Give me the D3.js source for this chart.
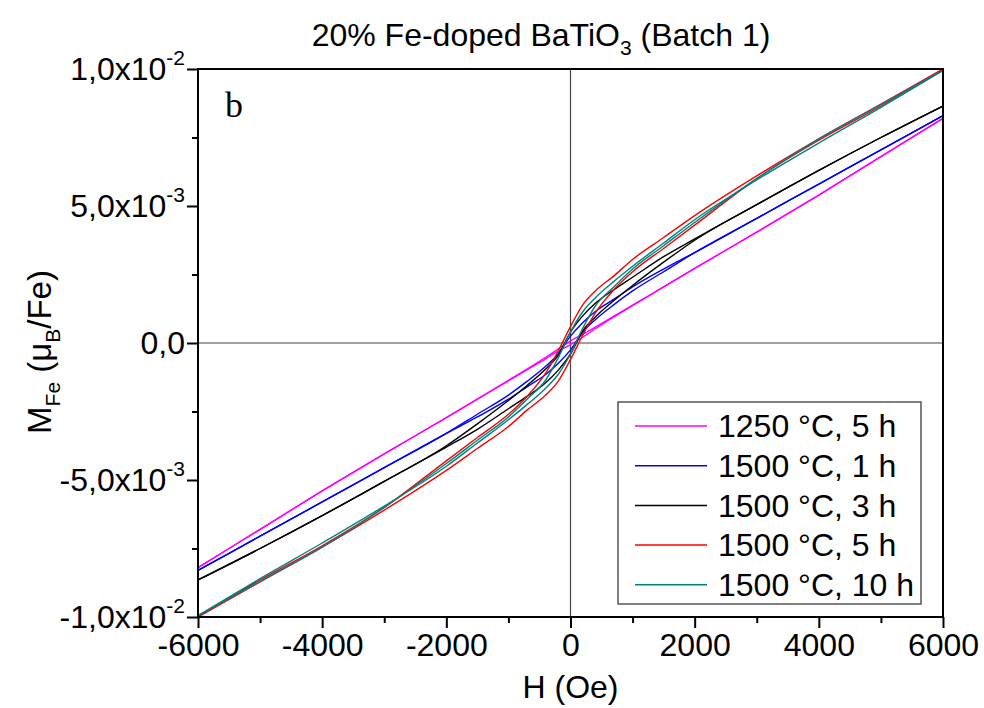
<!DOCTYPE html>
<html>
<head>
<meta charset="utf-8">
<script src="https://cdn.jsdelivr.net/npm/d3@7"></script>
<style>
  body { margin: 0; background: #fff; }
  text { font-family: "Liberation Sans", Arial, sans-serif; fill: #000; }
</style>
</head>
<body>
<svg id="chart" width="984" height="708"></svg>
<script>
// Applied field grid (Oe) shared by every branch
const fieldGrid = [-6000, -5000, -4000, -3000, -2000, -1500, -1000, -700, -400, -200, 0,
                   200, 400, 700, 1000, 1500, 2000, 3000, 4000, 5000, 6000];

// Magnetisation per Fe in units of 1e-3 muB; "Desc" = branch swept down from +H, "Asc" = swept up from -H
const m1250c5hDesc = [-8.2, -6.8, -5.4, -4.05, -2.72, -2.05, -1.36, -0.95, -0.52, -0.22, 0.08,
                      0.32, 0.58, 0.98, 1.38, 2.05, 2.72, 4.05, 5.4, 6.8, 8.2];
const m1250c5hAsc  = [-8.2, -6.8, -5.4, -4.05, -2.72, -2.05, -1.38, -0.98, -0.58, -0.3, -0.06,
                      0.22, 0.52, 0.95, 1.36, 2.05, 2.72, 4.05, 5.4, 6.8, 8.2];

const m1500c1hDesc = [-8.3, -7.05, -5.8, -4.55, -3.3, -2.6, -1.9, -1.4, -0.85, -0.4, 0.25,
                      0.75, 1.15, 1.6, 2.05, 2.7, 3.3, 4.55, 5.8, 7.05, 8.3];
const m1500c1hAsc  = [-8.3, -7.05, -5.8, -4.55, -3.3, -2.7, -2.05, -1.6, -1.15, -0.75, -0.25,
                      0.4, 0.85, 1.4, 1.9, 2.6, 3.3, 4.55, 5.8, 7.05, 8.3];

const m1500c3hDesc = [-8.65, -7.5, -6.3, -5.05, -3.75, -2.95, -2.1, -1.55, -0.95, -0.45, 0.4,
                      1.0, 1.45, 1.95, 2.4, 3.15, 3.8, 5.05, 6.3, 7.5, 8.65];
const m1500c3hAsc  = [-8.65, -7.5, -6.3, -5.05, -3.8, -3.15, -2.4, -1.95, -1.45, -1.0, -0.4,
                      0.45, 0.95, 1.55, 2.1, 2.95, 3.75, 5.05, 6.3, 7.5, 8.65];

const m1500c5hDesc = [-10.0, -8.65, -7.4, -6.0, -4.3, -3.45, -2.6, -1.95, -1.1, -0.3, 0.6,
                      1.4, 1.9, 2.45, 3.05, 3.85, 4.65, 6.1, 7.45, 8.72, 10.0];
const m1500c5hAsc  = [-10.0, -8.72, -7.45, -6.1, -4.65, -3.85, -3.05, -2.45, -1.9, -1.4, -0.6,
                      0.3, 1.1, 1.95, 2.6, 3.45, 4.3, 6.0, 7.4, 8.65, 10.0];

const m1500c10hDesc = [-9.95, -8.7, -7.45, -6.0, -4.4, -3.55, -2.7, -2.05, -1.35, -0.55, 0.4,
                       1.15, 1.65, 2.25, 2.8, 3.65, 4.5, 5.95, 7.3, 8.6, 9.95];
const m1500c10hAsc  = [-9.95, -8.6, -7.3, -5.95, -4.5, -3.65, -2.8, -2.25, -1.65, -1.15, -0.4,
                       0.55, 1.35, 2.05, 2.7, 3.55, 4.4, 6.0, 7.45, 8.7, 9.95];

const seriesLabels = ["1250 \u00B0C, 5 h", "1500 \u00B0C, 1 h", "1500 \u00B0C, 3 h",
                      "1500 \u00B0C, 5 h", "1500 \u00B0C, 10 h"];
const seriesColors = ["#ff00ff", "#0000ff", "#000000", "#ff0000", "#008080"];
const seriesBranches = [
  [m1250c5hDesc, m1250c5hAsc],
  [m1500c1hDesc, m1500c1hAsc],
  [m1500c3hDesc, m1500c3hAsc],
  [m1500c5hDesc, m1500c5hAsc],
  [m1500c10hDesc, m1500c10hAsc]
];

// Axis ticks
const xTicks = [-6000, -4000, -2000, 0, 2000, 4000, 6000];
const xMinorTicks = [-5000, -3000, -1000, 1000, 3000, 5000];
const yTicks = [-0.01, -0.005, 0, 0.005, 0.01];
const yMinorTicks = [-0.0075, -0.0025, 0.0025, 0.0075];
const yTickMantissa = ["-1,0x10", "-5,0x10", "0,0", "5,0x10", "1,0x10"];
const yTickExponent = ["-2", "-3", "", "-3", "-2"];

const svg = d3.select("#chart");
const plotLeft = 198, plotRight = 943, plotTop = 69, plotBottom = 617;

const x = d3.scaleLinear().domain([-6000, 6000]).range([plotLeft, plotRight]);
const y = d3.scaleLinear().domain([-0.01, 0.01]).range([plotBottom, plotTop]);

// Zero cross-hair lines
svg.append("line").attr("x1", x(0)).attr("x2", x(0)).attr("y1", plotTop).attr("y2", plotBottom)
  .attr("stroke", "#444").attr("stroke-width", 1.2);
svg.append("line").attr("x1", plotLeft).attr("x2", plotRight).attr("y1", y(0)).attr("y2", y(0))
  .attr("stroke", "#444").attr("stroke-width", 1.2);

// Curves
const line = d3.line()
  .x(d => x(d[0]))
  .y(d => y(d[1] * 1e-3))
  .curve(d3.curveMonotoneX);

const plot = svg.append("g");
seriesBranches.forEach((branches, i) => {
  branches.forEach(vals => {
    const pts = fieldGrid.map((h, k) => [h, vals[k]]);
    plot.append("path")
      .attr("d", line(pts))
      .attr("fill", "none")
      .attr("stroke", seriesColors[i])
      .attr("stroke-width", 1.4);
  });
});

// Frame
svg.append("rect").attr("x", plotLeft).attr("y", plotTop)
  .attr("width", plotRight - plotLeft).attr("height", plotBottom - plotTop)
  .attr("fill", "none").attr("stroke", "#000").attr("stroke-width", 2);

// X axis
const xAxis = svg.append("g").attr("transform", `translate(0,${plotBottom})`)
  .call(d3.axisBottom(x).tickValues(xTicks).tickSize(11).tickPadding(5).tickFormat(d => String(d)));
svg.append("g").attr("transform", `translate(0,${plotBottom})`)
  .call(d3.axisBottom(x).tickValues(xMinorTicks).tickSize(6).tickFormat(""));

// Y axis
const yAxis = svg.append("g").attr("transform", `translate(${plotLeft},0)`)
  .call(d3.axisLeft(y).tickValues(yTicks).tickSize(11).tickPadding(4).tickFormat(""));
svg.append("g").attr("transform", `translate(${plotLeft},0)`)
  .call(d3.axisLeft(y).tickValues(yMinorTicks).tickSize(6).tickFormat(""));

svg.selectAll(".domain").remove();
svg.selectAll(".tick line").attr("stroke", "#000").attr("stroke-width", 2);

xAxis.selectAll(".tick text").attr("font-size", 32).attr("fill", "#000")
  .attr("font-family", "Liberation Sans, Arial, sans-serif");

yAxis.selectAll(".tick text").each(function (d, i) {
  const t = d3.select(this)
    .attr("font-size", 32)
    .attr("font-family", "Liberation Sans, Arial, sans-serif")
    .attr("fill", "#000")
    .attr("x", -13)
    .attr("dy", "0.34em")
    .attr("text-anchor", "end");
  t.text(null);
  t.append("tspan").text(yTickMantissa[i]);
  if (yTickExponent[i]) {
    t.append("tspan").attr("font-size", 21).attr("dy", "-0.75em").text(yTickExponent[i]);
  }
});

// Title
const title = svg.append("text").attr("x", 541).attr("y", 46)
  .attr("text-anchor", "middle").attr("font-size", 32);
title.append("tspan").text("20% Fe-doped BaTiO");
title.append("tspan").attr("font-size", 21).attr("dy", 9).text("3");
title.append("tspan").attr("dy", -9).text(" (Batch 1)");

// Axis titles
svg.append("text").attr("x", x(0)).attr("y", 698)
  .attr("text-anchor", "middle").attr("font-size", 32).text("H (Oe)");

const yTitle = svg.append("text")
  .attr("transform", `translate(51,352) rotate(-90)`)
  .attr("text-anchor", "middle").attr("font-size", 33);
yTitle.append("tspan").text("M");
yTitle.append("tspan").attr("font-size", 21).attr("dy", 9).text("Fe");
yTitle.append("tspan").attr("dy", -9).text(" (\u03BC");
yTitle.append("tspan").attr("font-size", 21).attr("dy", 9).text("B");
yTitle.append("tspan").attr("dy", -9).text("/Fe)");

// Panel letter
svg.append("text").attr("x", 225).attr("y", 117)
  .style("font-family", "'Liberation Serif', 'Times New Roman', serif")
  .attr("font-size", 36).text("b");

// Legend
const legend = svg.append("g");
legend.append("rect").attr("x", 618).attr("y", 402).attr("width", 303).attr("height", 202)
  .attr("fill", "#fff").attr("stroke", "#555").attr("stroke-width", 1.5);
seriesLabels.forEach((lab, i) => {
  const ry = 426 + i * 39.7;
  legend.append("line").attr("x1", 635).attr("x2", 707).attr("y1", ry).attr("y2", ry)
    .attr("stroke", seriesColors[i]).attr("stroke-width", 1.5);
  legend.append("text").attr("x", 718).attr("y", ry).attr("dy", "0.35em")
    .attr("font-size", 32).text(lab);
});
</script>
</body>
</html>
